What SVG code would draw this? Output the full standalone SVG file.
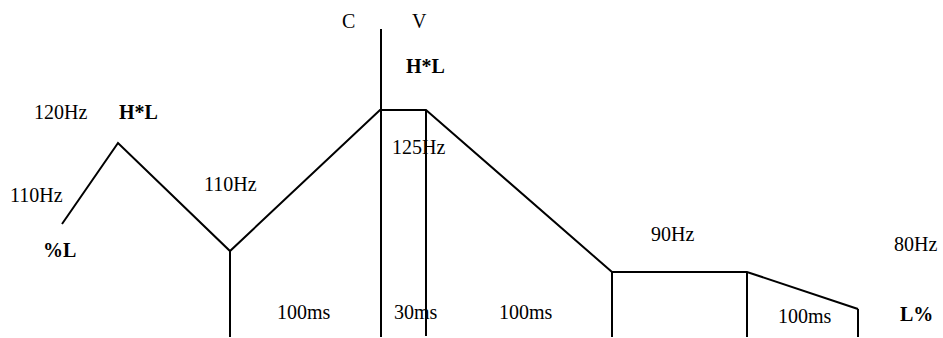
<svg xmlns="http://www.w3.org/2000/svg" width="943" height="338" viewBox="0 0 943 338">
<style>
.t{font-family:"Liberation Serif","Times New Roman",serif;font-size:20px;fill:#000}
.b{font-weight:bold}
.l{stroke:#000;stroke-width:2;fill:none;stroke-linejoin:miter}
</style>
<rect width="943" height="338" fill="#fff"/>
<g id="connectors">
<polyline class="l" points="62,224 118,143 230,251 380,110 426,110 612,272 747,272 858,309"/>
<line class="l" x1="230" y1="251" x2="230" y2="337"/>
<line class="l" x1="381" y1="29" x2="381" y2="337"/>
<line class="l" x1="426" y1="110" x2="426" y2="336"/>
<line class="l" x1="612" y1="272" x2="612" y2="337"/>
<line class="l" x1="747" y1="272" x2="747" y2="337"/>
<line class="l" x1="858" y1="309" x2="858" y2="337"/>
</g>
<g id="labels">
<text class="t" x="34" y="119">120Hz</text>
<text class="t b" x="119" y="119">H*L</text>
<text class="t" x="10" y="202">110Hz</text>
<text class="t" x="204" y="191">110Hz</text>
<text class="t b" x="43" y="257">%L</text>
<text class="t" x="342" y="28">C</text>
<text class="t" x="412" y="28">V</text>
<text class="t b" x="406" y="73">H*L</text>
<text class="t" x="392" y="154">125Hz</text>
<text class="t" x="277" y="319">100ms</text>
<text class="t" x="394" y="319">30ms</text>
<text class="t" x="499" y="319">100ms</text>
<text class="t" x="651" y="241">90Hz</text>
<text class="t" x="894" y="251">80Hz</text>
<text class="t" x="778" y="323">100ms</text>
<text class="t b" x="900" y="321">L%</text>
</g>
</svg>
